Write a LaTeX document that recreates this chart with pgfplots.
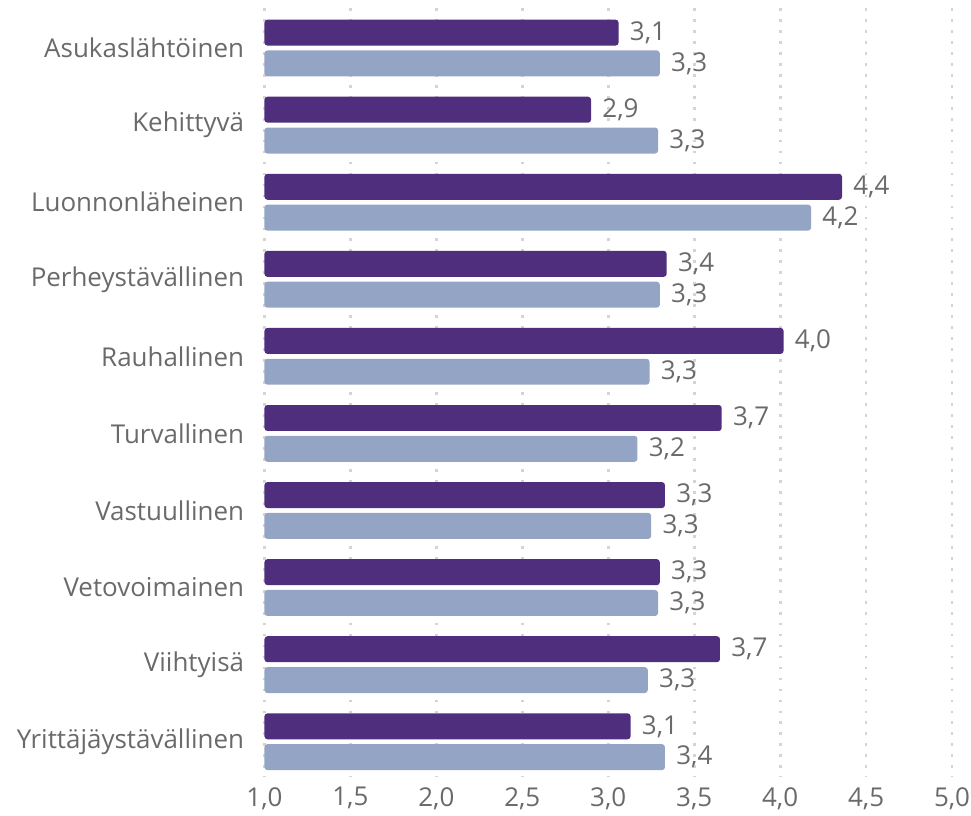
\documentclass[border=0pt]{standalone}
\usepackage{pgfplots}
\pgfplotsset{compat=1.18}
\usepackage{fontspec}
\setmainfont{Open Sans}
\definecolor{darkbar}{HTML}{4F2E7E}
\definecolor{lightbar}{HTML}{94A4C5}
\definecolor{txt}{HTML}{6A6A6A}
\definecolor{grid}{HTML}{D4D4D4}
\begin{document}
\begin{tikzpicture}
\begin{axis}[
  at={(0,0)}, anchor=south west,
  width=344.5pt, height=385pt, scale only axis,
  xmin=1, xmax=5,
  ymin=-0.52, ymax=9.45,
  y dir=reverse,
  xbar, bar width=0.337,
  xtick={1,1.5,...,5},
  ytick={0,...,9},
  yticklabels={Asukaslähtöinen,Kehittyvä,Luonnonläheinen,Perheystävällinen,Rauhallinen,Turvallinen,Vastuullinen,Vetovoimainen,Viihtyisä,Yrittäjäystävällinen},
  axis line style={draw=none},
  major tick length=0pt,
  xmajorgrids=true,
  grid style={color=grid, line width=1.4pt, dash pattern=on 1.4pt off 4.1pt},
  tick label style={font=\fontsize{13}{15}\selectfont, text=txt, inner sep=0pt},
  yticklabel style={anchor=east, xshift=-10pt},
  xticklabel style={anchor=center, yshift=-11pt},
  /pgf/number format/.cd, fixed, fixed zerofill, precision=1, use comma, assume math mode=true,
  /pgfplots/.cd,
  point meta=explicit symbolic,
  nodes near coords,
  nodes near coords style={font=\fontsize{13}{15}\selectfont, text=txt, anchor=west, inner sep=0pt, xshift=5.5pt},
  clip=true,
]
\addplot[draw=none, fill=darkbar, rounded corners=1.5pt, bar shift=-0.2] coordinates {
 (3.06,0) [3,1]
 (2.90,1) [2,9]
 (4.36,2) [4,4]
 (3.34,3) [3,4]
 (4.02,4) [4,0]
 (3.66,5) [3,7]
 (3.33,6) [3,3]
 (3.30,7) [3,3]
 (3.65,8) [3,7]
 (3.13,9) [3,1]
};
\addplot[draw=none, fill=lightbar, rounded corners=1.5pt, bar shift=0.2] coordinates {
 (3.30,0) [3,3]
 (3.29,1) [3,3]
 (4.18,2) [4,2]
 (3.30,3) [3,3]
 (3.24,4) [3,3]
 (3.17,5) [3,2]
 (3.25,6) [3,3]
 (3.29,7) [3,3]
 (3.23,8) [3,3]
 (3.33,9) [3,4]
};
\end{axis}
\path (-132.5pt,-19.5pt) rectangle (354pt,389pt);
\end{tikzpicture}
\end{document}
